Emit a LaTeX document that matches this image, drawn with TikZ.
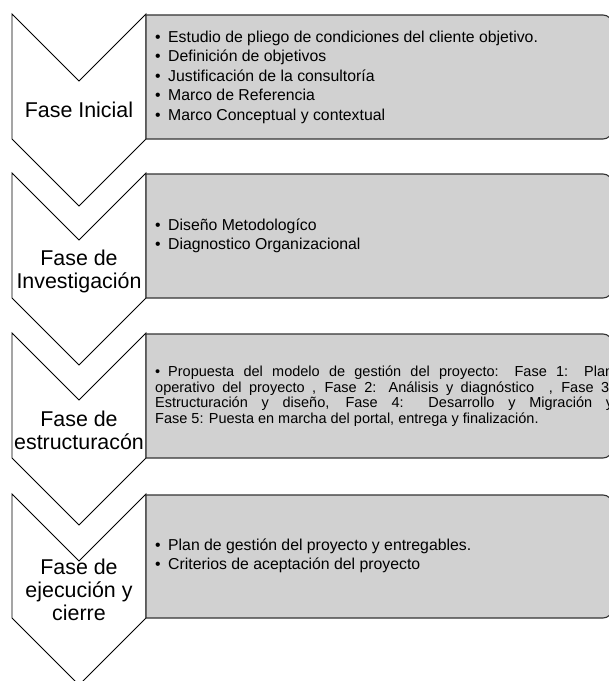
\documentclass[tikz,border=0pt]{standalone}
\usepackage{fontspec}
\setmainfont{Liberation Sans}
\usetikzlibrary{positioning}

\newcommand{\bul}{\makebox[13bp][l]{\textbullet}}

\begin{document}
\begin{tikzpicture}[x=1bp,y=-1bp,
    chevron/.style={draw=black,fill=white,line width=0.9bp,line join=miter},
    listbox/.style={draw=black!80,fill=black!18,line width=1.1bp},
    phase/.style={align=center,inner sep=0pt,font=\fontsize{21.4bp}{23bp}\selectfont},
    items/.style={anchor=west,align=left,inner sep=0pt,font=\fontsize{15.8bp}{19.5bp}\selectfont}]

\clip (0,0) rectangle (609,681);

% Fase Inicial
\draw[chevron] (12,14) -- (79,81) -- (146,14) -- (146,139) -- (79,206) -- (12,139) -- cycle;
\draw[listbox] (146,15) [rounded corners=9bp] -- (612,15) -- (612,139) [sharp corners] -- (146,139) -- cycle;
\node[phase] (f1) at (79,110) {Fase Inicial};
\node[items] (b1) at (155,77) {\bul Estudio de pliego de condiciones del cliente objetivo.\\
  \bul Definición de objetivos\\
  \bul Justificación de la consultoría\\
  \bul Marco de Referencia\\
  \bul Marco Conceptual y contextual};

% Fase de Investigacion
\draw[chevron] (12,173) -- (79,240) -- (146,173) -- (146,298) -- (79,365) -- (12,298) -- cycle;
\draw[listbox] (146,174) [rounded corners=9bp] -- (612,174) -- (612,298) [sharp corners] -- (146,298) -- cycle;
\node[phase] (f2) at (79,271) {Fase de\\Investigación};
\node[items] (b2) at (155,236) {\bul Diseño Metodologíco\\
  \bul Diagnostico Organizacional};

% Fase de estructuracion
\draw[chevron] (12,333) -- (79,400) -- (146,333) -- (146,458) -- (79,525) -- (12,458) -- cycle;
\draw[listbox] (146,334) [rounded corners=9bp] -- (612,334) -- (612,458) [sharp corners] -- (146,458) -- cycle;
\node[phase] (f3) at (79,430) {Fase de\\estructuracón};
\node[items,text width=458bp,align=justify,font=\fontsize{14.5bp}{15.5bp}\selectfont] (b3) at (155,396)
  {\hangindent=13bp\hangafter=1\noindent\bul Propuesta del modelo de gestión del proyecto: Fase 1: Plan\linebreak
  operativo del proyecto , Fase 2: Análisis y diagnóstico\ \ , Fase 3:\linebreak
  Estructuración y diseño, Fase 4: Desarrollo y Migración y\linebreak
  Fase 5: Puesta en marcha del portal, entrega y finalización.};

% Fase de ejecucion y cierre
\draw[chevron] (12,494) -- (79,561) -- (146,494) -- (146,618) -- (79,685) -- (12,618) -- cycle;
\draw[listbox] (146,495) [rounded corners=9bp] -- (612,495) -- (612,618) [sharp corners] -- (146,618) -- cycle;
\node[phase] (f4) at (79,590) {Fase de\\ejecución y\\cierre};
\node[items] (b4) at (155,556) {\bul Plan de gestión del proyecto y entregables.\\
  \bul Criterios de aceptación del proyecto};

\end{tikzpicture}
\end{document}
